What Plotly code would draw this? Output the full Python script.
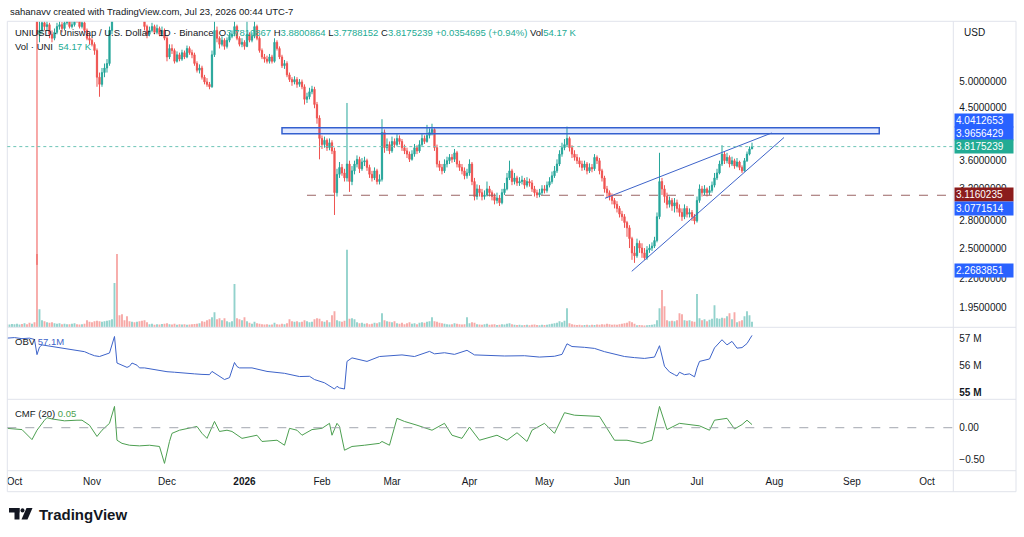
import numpy as np
import pandas as pd
import plotly.graph_objs as go

'''
Data (read off the chart by eye)
'''

# Daily candles, UNIUSD on Binance, first candle is 2025-09-28
start_date = '2025-09-28'
first_open = 7.35

closes = [7.30, 7.45, 7.60,
          7.70, 7.90, 8.10, 8.00, 8.20, 8.00, 7.60, 7.80, 7.50, 6.10,
          6.20, 6.40, 6.30, 6.35, 6.10, 6.00, 6.15, 6.30, 6.35, 6.25,
          6.40, 6.45, 6.30, 6.35, 6.60, 6.45, 6.30, 6.40, 6.20, 6.00,
          5.95, 5.85, 5.70, 5.10, 4.95, 5.20, 5.30, 5.40, 6.20, 6.90,
          9.00, 8.20, 7.90, 7.60, 7.30, 7.10, 6.90, 7.00, 6.80, 6.90,
          6.70, 6.60, 6.30, 6.10, 6.20, 6.30, 6.15, 6.25, 6.10, 6.20,
          6.00, 5.55, 5.75, 5.70, 5.45, 5.60, 5.50, 5.65, 5.55, 5.75,
          5.65, 5.60, 5.40, 5.25, 5.30, 5.10, 5.00, 4.95, 4.90, 5.60,
          6.20, 6.00, 5.85, 5.95, 5.80, 5.95, 6.05, 6.10, 6.30, 6.00,
          5.85, 5.90, 5.80, 6.10, 5.95, 6.05, 6.30, 6.00, 5.70, 5.55,
          5.50, 5.45, 5.55, 5.45, 5.90, 5.75, 5.55, 5.35, 5.40, 5.15,
          5.05, 5.00, 5.05, 4.95, 5.00, 4.90, 4.65, 4.70, 4.80, 4.85,
          4.55, 4.30, 3.95, 3.85, 3.92, 3.80, 3.88, 3.75, 3.15, 3.40,
          3.50, 3.42, 3.35, 3.55, 3.30, 3.45, 3.55, 3.62, 3.48, 3.58,
          3.60, 3.50, 3.40, 3.35, 3.45, 3.30, 3.33, 4.05, 3.80, 3.85,
          3.75, 3.90, 3.85, 3.95, 3.90, 3.80, 3.75, 3.70, 3.62, 3.70,
          3.80, 3.75, 3.85, 3.95, 3.90, 4.00, 4.05, 4.10, 3.80, 3.55,
          3.50, 3.45, 3.55, 3.60, 3.65, 3.62, 3.72, 3.55, 3.50, 3.45,
          3.38, 3.42, 3.55, 3.30, 3.10, 3.20, 3.15, 3.10, 3.12, 3.20,
          3.15, 3.10, 3.05, 3.08, 3.02, 3.15, 3.20, 3.35, 3.45, 3.30,
          3.35, 3.28, 3.30, 3.32, 3.25, 3.30, 3.28, 3.20, 3.15, 3.12,
          3.15, 3.20, 3.18, 3.25, 3.30, 3.38, 3.45, 3.55, 3.70, 3.80,
          3.85, 3.95, 3.80, 3.70, 3.65, 3.60, 3.55, 3.50, 3.55, 3.45,
          3.50, 3.48, 3.65, 3.60, 3.45, 3.35, 3.20, 3.15, 3.10, 3.05,
          3.00, 2.95, 2.88, 2.85, 2.78, 2.72, 2.60, 2.45, 2.42, 2.55,
          2.50, 2.45, 2.40, 2.48, 2.50, 2.52, 2.58, 2.85, 3.30, 3.20,
          3.10, 3.00, 3.05, 2.98, 3.02, 2.95, 2.90, 2.85, 2.95, 2.88,
          2.90, 2.85, 2.80, 3.05, 3.20, 3.15, 3.20, 3.15, 3.18, 3.25,
          3.35, 3.42, 3.55, 3.70, 3.60, 3.65, 3.55, 3.60, 3.52, 3.58,
          3.50, 3.45, 3.60, 3.70, 3.7810867, 3.8175239]

highs = [7.45, 7.60, 7.75,
         7.85, 8.00, 8.25, 8.20, 8.35, 8.30, 8.05, 7.90, 7.85, 7.60,
         6.45, 6.55, 6.50, 6.45, 6.40, 6.20, 6.25, 6.40, 6.45, 6.42,
         6.50, 6.55, 6.50, 6.45, 6.70, 6.65, 6.50, 6.48, 6.45, 6.25,
         6.10, 6.00, 5.90, 5.75, 5.20, 5.30, 5.40, 5.50, 6.30, 7.10,
         9.60, 9.20, 8.40, 8.00, 7.70, 7.40, 7.20, 7.15, 7.10, 7.00,
         6.95, 6.80, 6.65, 6.35, 6.30, 6.40, 6.35, 6.35, 6.30, 6.30,
         6.25, 6.05, 5.85, 5.85, 5.75, 5.68, 5.65, 5.72, 5.70, 5.82,
         5.80, 5.72, 5.65, 5.45, 5.38, 5.35, 5.15, 5.08, 5.00, 5.70,
         6.50, 6.30, 6.05, 6.05, 6.00, 6.02, 6.15, 6.20, 6.45, 6.35,
         6.05, 6.00, 5.95, 6.45, 6.15, 6.15, 6.50, 6.35, 6.05, 5.75,
         5.62, 5.58, 5.62, 5.60, 6.00, 5.95, 5.80, 5.60, 5.48, 5.45,
         5.20, 5.10, 5.12, 5.10, 5.06, 5.05, 4.95, 4.78, 4.88, 4.92,
         4.90, 4.60, 4.35, 4.00, 3.98, 3.95, 3.95, 3.92, 3.80, 3.48,
         3.58, 3.55, 3.48, 4.58, 3.60, 3.52, 3.60, 3.68, 3.66, 3.64,
         3.66, 3.63, 3.54, 3.45, 3.50, 3.48, 3.40, 4.28, 4.10, 3.95,
         3.90, 3.98, 3.95, 4.02, 4.00, 3.94, 3.85, 3.80, 3.74, 3.76,
         3.86, 3.84, 3.92, 4.02, 4.00, 4.18, 4.12, 4.20, 4.12, 3.85,
         3.60, 3.55, 3.62, 3.66, 3.70, 3.70, 3.78, 3.75, 3.60, 3.55,
         3.50, 3.48, 3.62, 3.58, 3.35, 3.26, 3.25, 3.20, 3.18, 3.30,
         3.24, 3.18, 3.14, 3.15, 3.12, 3.20, 3.28, 3.42, 3.60, 3.48,
         3.42, 3.38, 3.36, 3.38, 3.35, 3.36, 3.34, 3.32, 3.24, 3.19,
         3.20, 3.25, 3.25, 3.30, 3.36, 3.44, 3.52, 3.62, 3.76, 3.88,
         3.94, 4.15, 3.98, 3.84, 3.76, 3.70, 3.65, 3.60, 3.60, 3.58,
         3.56, 3.55, 3.70, 3.68, 3.64, 3.48, 3.38, 3.24, 3.18, 3.14,
         3.08, 3.04, 2.98, 2.92, 2.88, 2.80, 2.75, 2.62, 2.52, 2.60,
         2.58, 2.55, 2.50, 2.52, 2.54, 2.56, 2.62, 2.90, 3.72, 3.35,
         3.25, 3.15, 3.10, 3.08, 3.08, 3.06, 3.00, 2.95, 3.00, 2.98,
         2.95, 2.93, 2.88, 3.10, 3.26, 3.24, 3.25, 3.22, 3.24, 3.30,
         3.42, 3.48, 3.60, 3.84, 3.74, 3.72, 3.68, 3.66, 3.63, 3.64,
         3.60, 3.53, 3.64, 3.74, 3.82, 3.8800864]

lows = [7.20, 7.25, 7.40,
        7.50, 7.62, 7.85, 7.90, 7.95, 7.90, 7.50, 7.55, 7.40, 2.33,
        5.90, 6.10, 6.20, 6.20, 6.00, 5.90, 5.95, 6.10, 6.22, 6.15,
        6.20, 6.35, 6.25, 6.25, 6.30, 6.40, 6.25, 6.25, 6.15, 5.95,
        5.85, 5.80, 5.60, 4.90, 4.70, 4.90, 5.10, 5.20, 5.35, 6.10,
        6.80, 7.90, 7.70, 7.40, 7.20, 7.00, 6.80, 6.80, 6.70, 6.70,
        6.60, 6.45, 6.20, 6.00, 6.05, 6.15, 6.10, 6.10, 6.05, 6.05,
        5.95, 5.45, 5.50, 5.62, 5.40, 5.42, 5.45, 5.46, 5.50, 5.52,
        5.60, 5.52, 5.35, 5.20, 5.18, 5.05, 4.95, 4.90, 4.85, 4.88,
        5.55, 5.90, 5.75, 5.80, 5.72, 5.75, 5.90, 6.00, 6.05, 5.95,
        5.80, 5.78, 5.72, 5.78, 5.90, 5.90, 6.00, 5.95, 5.65, 5.50,
        5.42, 5.40, 5.40, 5.40, 5.42, 5.70, 5.50, 5.30, 5.28, 5.10,
        5.00, 4.92, 4.95, 4.88, 4.90, 4.85, 4.55, 4.58, 4.65, 4.75,
        4.48, 4.20, 3.62, 3.78, 3.80, 3.75, 3.76, 3.70, 2.87, 3.10,
        3.35, 3.38, 3.30, 3.30, 3.16, 3.25, 3.40, 3.50, 3.42, 3.45,
        3.52, 3.45, 3.35, 3.30, 3.32, 3.26, 3.26, 3.30, 3.72, 3.75,
        3.70, 3.72, 3.80, 3.82, 3.85, 3.75, 3.70, 3.64, 3.58, 3.60,
        3.66, 3.70, 3.72, 3.82, 3.86, 3.88, 3.95, 4.00, 3.75, 3.50,
        3.45, 3.40, 3.42, 3.50, 3.55, 3.57, 3.58, 3.50, 3.45, 3.40,
        3.33, 3.34, 3.38, 3.25, 3.05, 3.06, 3.10, 3.05, 3.06, 3.10,
        3.10, 3.05, 3.00, 3.01, 2.98, 3.00, 3.12, 3.18, 3.32, 3.25,
        3.26, 3.24, 3.24, 3.26, 3.20, 3.22, 3.23, 3.16, 3.10, 3.08,
        3.09, 3.12, 3.14, 3.15, 3.22, 3.27, 3.35, 3.42, 3.52, 3.66,
        3.76, 3.82, 3.74, 3.64, 3.60, 3.55, 3.50, 3.45, 3.46, 3.40,
        3.42, 3.43, 3.45, 3.55, 3.40, 3.30, 3.15, 3.08, 3.05, 3.00,
        2.95, 2.90, 2.84, 2.80, 2.72, 2.62, 2.50, 2.38, 2.35, 2.40,
        2.45, 2.40, 2.38, 2.38, 2.45, 2.47, 2.50, 2.56, 2.82, 3.12,
        3.02, 2.95, 2.96, 2.92, 2.90, 2.90, 2.85, 2.80, 2.82, 2.84,
        2.84, 2.80, 2.76, 2.78, 3.02, 3.10, 3.12, 3.10, 3.12, 3.15,
        3.22, 3.32, 3.40, 3.52, 3.55, 3.56, 3.50, 3.52, 3.48, 3.50,
        3.46, 3.42, 3.44, 3.58, 3.68, 3.7788152]

# Daily volume, thousands of UNI
volumes = [30, 28, 32,
           30, 35, 28, 32, 40, 30, 45, 35, 50, 730,
           180, 70, 60, 50, 45, 50, 40, 35, 40, 30,
           35, 30, 30, 35, 40, 30, 28, 30, 35, 70,
           55, 50, 60, 65, 60, 55, 60, 65, 70, 80,
           440, 730, 120, 130, 70, 110, 60, 55, 50, 55,
           60, 65, 70, 50, 30, 35, 25, 30, 28, 32,
           35, 40, 30, 28, 35, 25, 30, 28, 30, 25,
           28, 30, 32, 35, 40, 60, 55, 70, 80, 100,
           150, 80, 90, 70, 90, 60, 50, 60, 430, 90,
           80, 70, 100, 60, 45, 35, 55, 40, 35, 30,
           28, 30, 25, 28, 45, 30, 28, 35, 30, 40,
           80, 60, 55, 60, 50, 55, 70, 60, 50, 55,
           80, 90, 85, 60, 55, 70, 50, 120, 160, 70,
           60, 55, 65, 770, 85, 90, 80, 50, 40, 45,
           35, 40, 30, 35, 45, 40, 50, 140, 70, 60,
           55, 50, 60, 40, 35, 45, 30, 40, 50, 35,
           40, 30, 45, 50, 45, 55, 60, 100, 60, 55,
           45, 40, 35, 30, 28, 30, 40, 35, 30, 28,
           30, 100, 40, 50, 45, 30, 28, 25, 30, 35,
           25, 28, 30, 22, 25, 30, 28, 35, 40, 30,
           25, 22, 25, 20, 22, 25, 20, 25, 28, 22,
           20, 25, 22, 25, 30, 35, 40, 45, 60, 50,
           65, 190, 40, 30, 25, 22, 25, 20, 22, 25,
           20, 25, 22, 28, 25, 30, 28, 35, 30, 25,
           28, 25, 30, 35, 40, 45, 60, 50, 35, 20,
           22, 20, 18, 20, 22, 25, 30, 70, 190, 370,
           210, 70, 60, 65, 60, 70, 140, 130, 70, 65,
           70, 60, 55, 330, 90, 70, 80, 60, 75, 85,
           220, 90, 85, 95, 90, 110, 140, 80, 150, 50,
           60, 70, 110, 160, 120, 54.17]

# OBV (millions) and CMF (20), days counted from 2025-10-01
obv_days = [-3, 0, 3, 6, 8, 9, 10, 11, 13, 16, 20, 24, 28, 30, 32, 34, 36, 38, 40, 41,
            43, 45, 46, 47, 49, 50, 52, 55, 58, 61, 64, 68, 72, 75, 78, 79, 84, 86, 88, 89,
            90, 95, 101, 108, 114, 118, 120, 124, 127, 128, 129, 130, 132, 133, 135, 138,
            141, 146, 150, 155, 160, 166, 168, 172, 176, 181, 184, 190, 196, 204, 210, 216,
            219, 221, 223, 228, 232, 236, 240, 244, 248, 252, 256, 258, 260, 262, 264, 265,
            266, 268, 270, 272, 273, 274, 278, 280, 283, 285, 287, 289, 291, 293, 295]
obv_vals = [57.0, 57.02, 56.98, 57.0, 56.95, 56.39, 56.67, 56.75, 56.72, 56.68, 56.62, 56.55,
            56.5, 56.42, 56.35, 56.32, 56.38, 56.45, 57.06, 56.08, 56.0, 55.92, 55.96, 56.08,
            56.0, 55.9, 55.9, 55.85, 55.8, 55.76, 55.74, 55.7, 55.68, 55.66, 55.65, 55.77,
            55.47, 55.54, 56.1, 55.95, 55.9, 55.9, 55.77, 55.7, 55.58, 55.59, 55.47, 55.35,
            55.2, 55.12, 55.22, 55.16, 55.12, 56.14, 56.27, 56.2, 56.14, 56.32, 56.35, 56.38,
            56.32, 56.51, 56.42, 56.46, 56.4, 56.55, 56.38, 56.35, 56.34, 56.35, 56.3, 56.33,
            56.4, 56.79, 56.69, 56.66, 56.62, 56.5, 56.4, 56.32, 56.28, 56.25, 56.3, 56.72,
            55.96, 55.75, 55.65, 55.6, 55.74, 55.65, 55.68, 55.57, 55.9, 56.14, 56.23, 56.64,
            56.94, 56.75, 56.88, 56.63, 56.65, 56.8, 57.1]

cmf_days = [-3, 0, 2, 3, 7, 9, 12, 13, 15, 20, 25, 27, 30, 33, 35, 38, 40, 41, 43, 46,
            50, 54, 58, 60, 62, 63, 66, 71, 73, 75, 77, 80, 82, 85, 87, 91, 97, 99, 105, 108,
            110, 113, 115, 119, 123, 126, 127, 129, 130, 132, 135, 140, 146, 147, 150, 153,
            156, 161, 167, 172, 175, 179, 182, 186, 193, 197, 201, 205, 207, 212, 216, 220,
            224, 234, 240, 245, 251, 255, 258, 261, 266, 274, 278, 280, 285, 288, 291, 293, 295]
cmf_vals = [-0.01, -0.02, -0.03, -0.03, -0.19, -0.04, 0.12, 0.16, 0.14, 0.11, 0.12, 0.12,
            0.04, -0.14, -0.04, 0.07, 0.34, -0.2, -0.25, -0.28, -0.29, -0.28, -0.3, -0.57,
            -0.22, -0.09, -0.04, 0.0, 0.02, -0.09, -0.17, 0.1, -0.06, -0.04, -0.06, -0.17,
            -0.12, -0.22, -0.2, -0.28, -0.01, -0.04, -0.12, -0.03, -0.01, 0.07, -0.12, 0.07,
            0.02, -0.36, -0.3, -0.28, -0.25, -0.22, -0.28, 0.15, 0.1, 0.04, -0.04, 0.07,
            -0.12, -0.17, 0.01, -0.2, -0.12, -0.2, -0.08, -0.22, -0.04, 0.07, -0.09, 0.24,
            0.2, 0.18, -0.2, -0.2, -0.25, -0.2, 0.34, -0.03, 0.07, 0.03, -0.04, 0.12, 0.15,
            -0.02, 0.05, 0.12, 0.05]

# Axis ticks
price_ticks = [5.0, 4.5, 3.6, 3.2, 2.8, 2.5, 2.2, 1.95]
obv_ticks = [57, 56, 55]
cmf_ticks = [0.0, -0.5]
month_ticks = ['2025-10-01', '2025-11-01', '2025-12-01', '2026-01-01', '2026-02-01',
               '2026-03-01', '2026-04-01', '2026-05-01', '2026-06-01', '2026-07-01',
               '2026-08-01', '2026-09-01', '2026-10-01']
month_labels = ['Oct', 'Nov', 'Dec', '<b>2026</b>', 'Feb', 'Mar', 'Apr', 'May', 'Jun',
                'Jul', 'Aug', 'Sep', 'Oct']

# Drawings on the chart
box_x = ['2026-01-16', '2026-09-11 21:36']
box_y = [4.03, 4.13]
upper_x = ['2026-05-25 05:00', '2026-07-30 21:36']
upper_y = [3.0771514, 4.0412653]
lower_x = ['2026-06-04 21:36', '2026-08-04 19:12']
lower_y = [2.2683851, 3.9656429]
level_x0 = '2026-01-26'
level_y = 3.1160235
last_price = 3.8175239

# Price tags on the right axis
tag_values = [4.0412653, 3.9656429, 3.8175239, 3.1160235, 3.0771514, 2.2683851]

assert len(closes) == len(highs) == len(lows) == len(volumes)
assert len(obv_days) == len(obv_vals) and len(cmf_days) == len(cmf_vals)

'''
Prepare data
'''

dates = pd.date_range(start_date, periods=len(closes), freq='D')
opens = [first_open] + closes[:-1]
base = pd.Timestamp('2025-10-01')
obv_dates = base + pd.to_timedelta(obv_days, unit='D')
cmf_dates = base + pd.to_timedelta(cmf_days, unit='D')

up_col = '#26a69a'
down_col = '#ef5350'
vol_cols = ['rgba(38,166,154,0.5)' if c >= o else 'rgba(239,83,80,0.5)'
            for o, c in zip(opens, closes)]

'''
Make figure
'''

W, H = 1024, 537
def px_x(v):
    return v / W
def px_y(v):
    return 1 - v / H

FONT = 'Liberation Sans, Arial, sans-serif'
TXT = '#131722'
GRID = '#e0e3eb'
TEAL = '#22ab94'

x_dom = [px_x(7.3), px_x(953.3)]
x_range = ['2025-09-28 03:00', '2026-10-11 12:30']

fig = go.Figure()
fig.add_trace(go.Bar(x=dates, y=volumes, marker=dict(color=vol_cols, line_width=0),
                     yaxis='y4', hoverinfo='skip'))
fig.add_trace(go.Candlestick(x=dates, open=opens, high=highs, low=lows, close=closes,
                             increasing=dict(line=dict(color=up_col, width=1), fillcolor=up_col),
                             decreasing=dict(line=dict(color=down_col, width=1), fillcolor=down_col),
                             whiskerwidth=0, yaxis='y'))
fig.add_trace(go.Scatter(x=obv_dates, y=obv_vals, mode='lines',
                         line=dict(color='#3d63c9', width=1), yaxis='y2'))
fig.add_trace(go.Scatter(x=cmf_dates, y=cmf_vals, mode='lines',
                         line=dict(color='#4c9f50', width=1), yaxis='y3'))

axis_font = dict(family=FONT, size=10, color=TXT)

shapes = []
# frame and pane separators
shapes.append(dict(type='rect', xref='paper', yref='paper', x0=px_x(7.3), x1=px_x(1016),
                   y0=px_y(491.7), y1=px_y(21.3), line=dict(color=GRID, width=1)))
shapes.append(dict(type='line', xref='paper', yref='paper', x0=px_x(953.3), x1=px_x(953.3),
                   y0=px_y(491.7), y1=px_y(21.3), line=dict(color=GRID, width=1)))
for yy in [327.3, 399.3, 470.7]:
    shapes.append(dict(type='line', xref='paper', yref='paper', x0=px_x(7.3), x1=px_x(1016),
                       y0=px_y(yy), y1=px_y(yy), line=dict(color=GRID, width=1)))
# resistance box
shapes.append(dict(type='rect', xref='x', yref='y', x0=box_x[0], x1=box_x[1],
                   y0=box_y[0], y1=box_y[1], fillcolor='rgba(41,98,255,0.14)',
                   line=dict(color='#3460cf', width=1.5)))
# wedge lines
shapes.append(dict(type='line', xref='x', yref='y', x0=upper_x[0], x1=upper_x[1],
                   y0=upper_y[0], y1=upper_y[1], line=dict(color='#3d63c9', width=1)))
shapes.append(dict(type='line', xref='x', yref='y', x0=lower_x[0], x1=lower_x[1],
                   y0=lower_y[0], y1=lower_y[1], line=dict(color='#3d63c9', width=1)))
# horizontal level
shapes.append(dict(type='line', xref='x', yref='y', x0=level_x0, x1=x_range[1],
                   y0=level_y, y1=level_y, line=dict(color='#9a6464', width=1, dash='dash')))
# last price line
shapes.append(dict(type='line', xref='paper', yref='y', x0=x_dom[0], x1=x_dom[1],
                   y0=last_price, y1=last_price, line=dict(color='#6cc4b6', width=1, dash='dot')))
# CMF zero line
shapes.append(dict(type='line', xref='paper', yref='y3', x0=x_dom[0], x1=x_dom[1],
                   y0=0, y1=0, line=dict(color='#a3a6af', width=1, dash='dash')))
# TradingView logo
shapes.append(dict(type='rect', xref='paper', yref='paper', x0=px_x(9), x1=px_x(19.5),
                   y0=px_y(512.5), y1=px_y(508), fillcolor='#131722', line_width=0))
shapes.append(dict(type='rect', xref='paper', yref='paper', x0=px_x(14.5), x1=px_x(19.5),
                   y0=px_y(519.5), y1=px_y(508), fillcolor='#131722', line_width=0))
shapes.append(dict(type='circle', xref='paper', yref='paper', x0=px_x(20.5), x1=px_x(24.5),
                   y0=px_y(512.5), y1=px_y(508.3), fillcolor='#131722', line_width=0))
shapes.append(dict(type='path', xref='paper', yref='paper',
                   path='M %f %f L %f %f L %f %f L %f %f Z' % (
                       px_x(26.5), px_y(508), px_x(32.5), px_y(508),
                       px_x(27.5), px_y(519.5), px_x(21.5), px_y(519.5)),
                   fillcolor='#131722', line_width=0))

def ann(x, y, text, size=10, color=TXT, **kw):
    d = dict(xref='paper', yref='paper', x=px_x(x), y=px_y(y), text=text,
             showarrow=False, xanchor='left', yanchor='middle',
             font=dict(family=FONT, size=size, color=color))
    d.update(kw)
    return d

def tv(s):
    return '<span style="color:%s">%s</span>' % (TEAL, s)

sp = '\u00a0'
annotations = [
    ann(8, 12, 'sahanavv created with TradingView.com, Jul 23, 2026 00:44 UTC-7', size=9.5),
    ann(13, 33, 'UNIUSD · Uniswap / U.S. Dollar · 1D · Binance' + sp * 2 +
        'O' + tv('3.7810867') + sp + 'H' + tv('3.8800864') + sp + 'L' + tv('3.7788152') +
        sp + 'C' + tv('3.8175239') + sp + tv('+0.0354695 (+0.94%)') + sp + 'Vol' + tv('54.17' + sp + 'K'),
        size=9.5),
    ann(13, 46, 'Vol · UNI' + sp * 2 + tv('54.17' + sp + 'K'), size=9.5),
    ann(962, 33, 'USD'),
    ann(13, 341.5, 'OBV' + sp + '<span style="color:#3d63c9">57.1M</span>', size=9.5),
    ann(13, 413, 'CMF (20)' + sp + '<span style="color:#4c9f50">0.05</span>', size=9.5),
    ann(37, 514, '<b>TradingView</b>', size=15),
]

# price tags (label y positions as TradingView stacks them)
tag_pos = [120.5, 133.5, 146.7, 194.8, 208.3, 270.7]
tag_bg = ['#2962ff', '#2962ff', TEAL, '#8b1c1c', '#2962ff', '#2962ff']
for v, yy, bg in zip(tag_values, tag_pos, tag_bg):
    annotations.append(ann(954.3, yy, '%.7f' % v, color='white', bgcolor=bg,
                           width=56, height=11, align='left', borderpad=1))

fig.update_layout(
    width=W, height=H,
    margin=dict(l=0, r=0, t=0, b=0, pad=0),
    paper_bgcolor='white', plot_bgcolor='white',
    showlegend=False, bargap=0.25,
    font=dict(family=FONT, size=10, color=TXT),
    xaxis=dict(domain=x_dom, anchor='y3', type='date', range=x_range,
               showgrid=False, zeroline=False, showline=False, ticks='',
               tickvals=month_ticks, ticktext=month_labels, tickfont=axis_font,
               ticklabelstandoff=3, rangeslider=dict(visible=False)),
    yaxis=dict(domain=[px_y(327.3), px_y(21.3)], anchor='x', type='log', side='right',
               range=[np.log10(1.796), np.log10(6.44)], showgrid=False, zeroline=False,
               tickvals=price_ticks, ticktext=['%.7f' % t for t in price_ticks],
               tickfont=axis_font, ticks='', ticklabelstandoff=5),
    yaxis2=dict(domain=[px_y(399.3), px_y(327.3)], anchor='x', side='right',
                range=[54.74, 57.40], showgrid=False, zeroline=False,
                tickvals=obv_ticks, ticktext=['57' + sp + 'M', '56' + sp + 'M', '<b>55' + sp + 'M</b>'],
                tickfont=axis_font, ticks='', ticklabelstandoff=5),
    yaxis3=dict(domain=[px_y(470.7), px_y(399.3)], anchor='x', side='right',
                range=[-0.687, 0.454], showgrid=False, zeroline=False,
                tickvals=cmf_ticks, ticktext=['0.00', '\u22120.50'],
                tickfont=axis_font, ticks='', ticklabelstandoff=5),
    yaxis4=dict(overlaying='y', anchor='x', range=[0, 3043], visible=False),
    shapes=shapes,
    annotations=annotations,
)

fig.write_html("out.html", config={'displayModeBar': False},
               post_script="document.body.style.margin='0';")
